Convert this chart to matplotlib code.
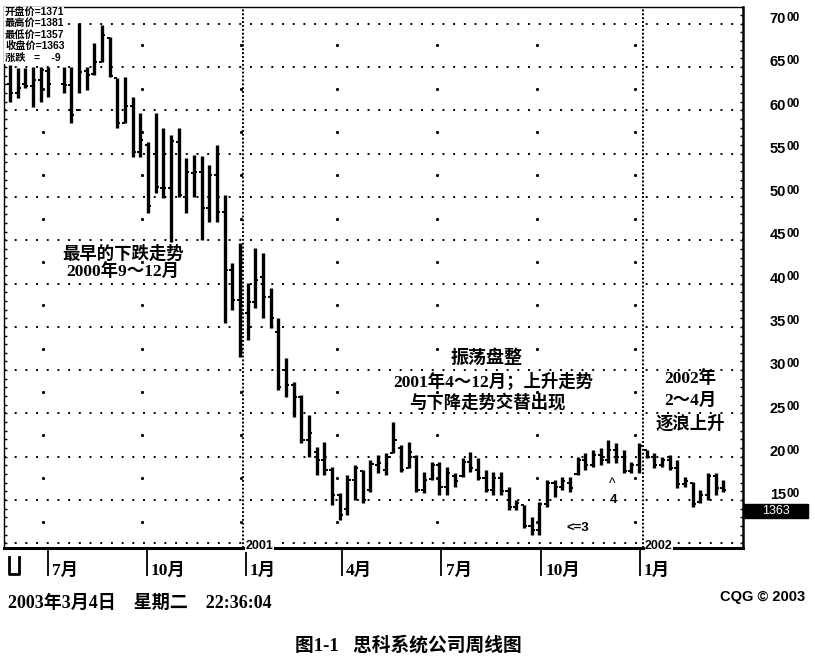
import numpy as np
import matplotlib
matplotlib.use("Agg")
import matplotlib.pyplot as plt
from matplotlib.patches import Rectangle
from matplotlib.lines import Line2D
from matplotlib.ticker import MultipleLocator, NullFormatter
import matplotlib.transforms as mtrans

plt.rcParams['font.family'] = ['Liberation Serif', 'Noto Sans CJK SC']
SANS = ['Liberation Sans', 'Noto Sans CJK SC']
SERIF = ['Liberation Serif', 'Noto Sans CJK SC']

# weekly bars (nan = week without a bar)
nan = np.nan
opens = [6300, 6200, 6300, 6280, 6350, 6450, nan, 6300, 6290, 6000,
         6450, 6420, 6560, 6840, 6370, 5860, 6050, 5520, 5600, 5500,
         5100, 5100, 5635, 5000, 5280, 5288, 4873, 5254, 4826, 4157,
         3810, 3660, 3787, 4076, 3845, 3440, 3000, 2828, 2690, 2193,
         2050, 1962, 1847, 1558, 1400, 1731, 1830, 1616, 1900, 1850,
         2043, 2100, 1870, 2000, 1616, 1740, 1900, 1650, 1780, 1780,
         1939, 1850, 1760, 1620, 1750, 1600, 1420, 1440, 1200, 1150,
         1450, 1700, 1650, 1700, 1800, 1960, 1900, 2020, 1960, 2080,
         2000, 1840, 1900, 2078, 2000, 1900, 1960, 1870, 1680, 1700,
         1480, 1560, 1780, 1640]
highs = [6524, 6490, 6490, 6500, 6500, 6500, nan, 6500, 6500, 7009,
         6500, 6778, 6986, 6848, 6374, 6386, 6155, 5970, 5635, 5970,
         5797, 5716, 5797, 5450, 5485, 5473, 5369, 5600, 5023, 4237,
         4468, 4006, 4411, 4353, 3949, 3602, 3140, 2863, 2713, 2482,
         2112, 2170, 1881, 1581, 1789, 1904, 1847, 1962, 2020, 2043,
         2401, 2135, 2170, 2020, 1823, 1939, 1939, 1881, 1812, 1985,
         2054, 1985, 1847, 1823, 1823, 1650, 1500, 1442, 1304, 1477,
         1731, 1731, 1766, 1766, 1997, 2043, 2078, 2101, 2193, 2158,
         2078, 1939, 2158, 2078, 2043, 1997, 2020, 1962, 1766, 1708,
         1616, 1812, 1812, 1731]
lows = [6097, 6143, 6259, 6039, 6097, 6155, nan, 6201, 5854, 6201,
        6236, 6409, 6559, 6386, 5797, 5854, 5462, 5462, 4815, 5046,
        4988, 4480, 5000, 4815, 5000, 4503, 4711, 4711, 3544, 3695,
        3152, 3348, 3718, 3602, 3487, 2771, 2690, 2459, 2158, 1997,
        1789, 1789, 1442, 1269, 1327, 1500, 1465, 1592, 1812, 1789,
        2043, 1823, 1870, 1592, 1581, 1731, 1558, 1558, 1650, 1766,
        1823, 1731, 1592, 1558, 1558, 1385, 1385, 1177, 1096, 1096,
        1419, 1535, 1616, 1592, 1789, 1847, 1881, 1904, 1927, 1927,
        1812, 1812, 1812, 1985, 1870, 1881, 1847, 1639, 1650, 1419,
        1465, 1500, 1558, 1592]
closes = [6200, 6259, 6280, 6350, 6466, 6300, nan, 6293, 5950, 6443,
          6409, 6559, 6871, 6400, 5850, 6051, 5519, 5658, 4900, 5115,
          5104, 5650, 5023, 5288, 5288, 4873, 5254, 4826, 4157, 3810,
          3660, 3787, 4041, 3845, 3602, 2800, 2828, 2690, 2193, 2274,
          1962, 1847, 1558, 1327, 1731, 1870, 1500, 1920, 1927, 1997,
          2193, 1847, 2054, 1616, 1731, 1900, 1650, 1812, 1720, 1939,
          1870, 1760, 1620, 1750, 1600, 1420, 1460, 1200, 1150, 1450,
          1700, 1650, 1720, 1640, 1960, 1900, 2020, 1960, 2080, 2000,
          1840, 1900, 2120, 2000, 1900, 1960, 1870, 1680, 1720, 1450,
          1560, 1780, 1640, 1620]

month_pos = [4.9, 17.85, 30.75, 43.25, 56.25, 69.25, 82.1]
month_labels = ["7月", "10月", "1月", "4月", "7月", "10月", "1月"]
year_pos = [30.4, 82.5]
year_labels = ["2001", "2002"]
price_levels = list(range(1000, 7001, 500))
info_lines = ["开盘价=1371", "最高价=1381", "最低价=1357", "收盘价=1363", "涨跌   =    -9"]
last_close = 1363

W, H = 815, 664
fig = plt.figure(figsize=(W / 100, H / 100), dpi=100)
L, R, T, B = 4, 743, 7, 548
ax = fig.add_axes([L / W, 1 - B / H, (R - L) / W, (B - T) / H])
ax.set_xlim(-0.78, 95.57)
ax.set_ylim(946, 7194)

x = np.arange(len(highs))
o = np.array(opens, float); h = np.array(highs, float)
lo = np.array(lows, float); c = np.array(closes, float)
ok = ~np.isnan(h)
ax.vlines(x[ok], lo[ok], h[ok], color="black", lw=2.4, zorder=3)
ax.hlines(o[ok], x[ok] - 0.4, x[ok], color="black", lw=1.4, zorder=3)
ax.hlines(c[ok], x[ok], x[ok] + 0.4, color="black", lw=1.4, zorder=3)

# dotted grid
for v in price_levels:
    ax.axhline(v, color="black", lw=1.4, ls=(0, (1, 4.5)), zorder=1)
for xp in year_pos:
    ax.axvline(xp, color="black", lw=1.4, ls=(0, (1, 1)), zorder=1)
half = [v + 250 for v in price_levels[:-1]]
for mp in month_pos:
    ax.plot([mp - 0.6] * len(half), half, ls="none", marker="s", ms=1.1,
            color="black", zorder=1)

for s in ["left", "top"]:
    ax.spines[s].set_linewidth(1.0)
ax.spines["right"].set_linewidth(1.8)
ax.spines["bottom"].set_linewidth(2.2)

ax.set_xticks(month_pos)
ax.xaxis.set_major_formatter(NullFormatter())
ax.tick_params(axis="x", direction="out", length=20, width=1.3, color="black")
ax.yaxis.set_major_locator(MultipleLocator(500))
ax.yaxis.set_minor_locator(MultipleLocator(100))
ax.yaxis.set_major_formatter(NullFormatter())
ax.tick_params(axis="y", which="both", direction="in", left=True, right=True,
               length=2.5, width=1.0)

# month labels under the axis
for mp, lab in zip(month_pos, month_labels):
    ax.annotate(lab, xy=(mp, 0), xycoords=("data", "axes fraction"),
                xytext=(3, -16.5), textcoords="offset points", ha="left", va="center",
                fontsize=12.5, weight="bold", family=SERIF)

# right price labels, last two digits smaller
ytr = mtrans.blended_transform_factory(ax.transAxes, ax.transData)
for v in price_levels[1:]:
    ax.annotate(str(v // 100), xy=(1, v), xycoords=ytr, xytext=(31, 8.5),
                textcoords="offset points", ha="right", va="top",
                fontsize=10.5, weight="bold", family=SANS, annotation_clip=False)
    ax.annotate("00", xy=(1, v), xycoords=ytr, xytext=(31, 8.8),
                textcoords="offset points", ha="left", va="top",
                fontsize=8.5, weight="bold", family=SANS, annotation_clip=False)

ax.add_patch(Rectangle((1.0, last_close - 72), 65 / (R - L), 158, transform=ytr,
                       facecolor="black", edgecolor="black", clip_on=False, zorder=5))
ax.text(1.0 + 33 / (R - L), last_close + 5, str(last_close), transform=ytr,
        color="white", fontsize=9, ha="center", va="center", family=SANS,
        stretch="condensed", zorder=6)

# info box top-left
ax.add_patch(Rectangle((0, 1 - 57 / (B - T)), 60 / (R - L), 57 / (B - T),
                       transform=ax.transAxes, facecolor="white", edgecolor="none",
                       zorder=6))
for i, t in enumerate(info_lines):
    fig.text(5 / W, 1 - (12 + 11.4 * i) / H, t, fontsize=7.4, weight="bold",
             family=SANS, va="center", ha="left", zorder=7)

# annotations inside the chart
kw = dict(ha="center", va="center", weight="bold")
ax.text(14.7, 4334, "最早的下跌走势", fontsize=12.5, **kw)
ax.text(14.7, 4125, "2000年9～12月", fontsize=12.5, **kw)
ax.text(62.1, 3140, "振荡盘整", fontsize=13, **kw)
ax.text(63.0, 2863, "2001年4～12月；上升走势", fontsize=12.5, **kw)
ax.text(62.2, 2620, "与下降走势交替出现", fontsize=12.5, **kw)
ax.text(88.7, 2909, "2002年", fontsize=12.5, **kw)
ax.text(88.7, 2643, "2～4月", fontsize=12.5, **kw)
ax.text(88.7, 2378, "逐浪上升", fontsize=12.5, **kw)
ax.text(78.5, 1690, "^", fontsize=10, family=SANS, ha="center", va="center")
ax.text(78.7, 1500, "4", fontsize=9.5, family=SANS, weight="bold", ha="center",
        va="center", bbox=dict(facecolor="white", edgecolor="none", pad=0.5))
ax.text(74.0, 1177, "<=3", fontsize=9.5, family=SANS, weight="bold", ha="center",
        va="center")
for xp, lab in zip(year_pos, year_labels):
    ax.text(xp + 0.3, 968, lab, fontsize=9, family=SANS, weight="bold", ha="left",
            va="center", bbox=dict(facecolor="white", edgecolor="none", pad=0.3))

# small bracket at lower-left
fig.add_artist(Line2D(np.array([9, 9, 19, 19]) / W,
                      1 - np.array([557, 574, 574, 557]) / H, color="black", lw=2))

fig.text(8 / W, 1 - 603 / H, "2003年3月4日    星期二    22:36:04", fontsize=13,
         weight="bold", family=SERIF, va="center", ha="left")
fig.text(805 / W, 1 - 597 / H, "CQG © 2003", fontsize=10.5, weight="bold",
         family=SANS, va="center", ha="right", stretch="condensed")
fig.text(408 / W, 1 - 645 / H, "图1-1   思科系统公司周线图", fontsize=13.5,
         weight="bold", family=SERIF, va="center", ha="center")

fig.savefig("out.png", dpi=100)
